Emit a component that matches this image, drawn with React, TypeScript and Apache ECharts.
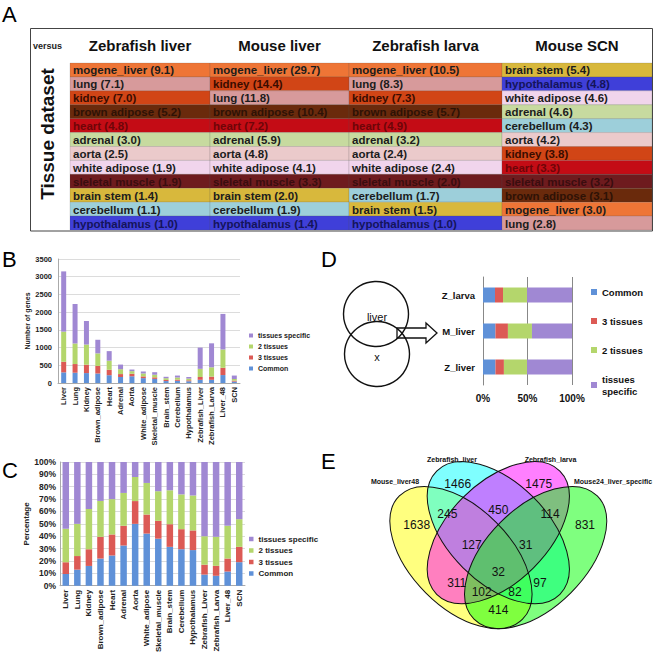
import React, { useEffect, useRef } from 'react';
import * as echarts from 'echarts';

// ---------- Panel A data ----------
const tableColumns = ['Zebrafish liver', 'Mouse liver', 'Zebrafish larva', 'Mouse SCN'];
const zebrafishLiverTissues = ['mogene_liver', 'lung', 'kidney', 'brown adipose', 'heart', 'adrenal', 'aorta', 'white adipose', 'sleletal muscle', 'brain stem', 'cerebellum', 'hypothalamus'];
const zebrafishLiverScores = [9.1, 7.1, 7.0, 5.2, 4.8, 3.0, 2.5, 1.9, 1.9, 1.4, 1.1, 1.0];
const mouseLiverTissues = ['mogene_liver', 'kidney', 'lung', 'brown adipose', 'heart', 'adrenal', 'aorta', 'white adipose', 'sleletal muscle', 'brain stem', 'cerebellum', 'hypothalamus'];
const mouseLiverScores = [29.7, 14.4, 11.8, 10.4, 7.2, 5.9, 4.8, 4.1, 3.3, 2.0, 1.9, 1.4];
const zebrafishLarvaTissues = ['mogene_liver', 'lung', 'kidney', 'brown adipose', 'heart', 'adrenal', 'aorta', 'white adipose', 'sleletal muscle', 'cerebellum', 'brain stem', 'hypothalamus'];
const zebrafishLarvaScores = [10.5, 8.3, 7.3, 5.7, 4.9, 3.2, 2.4, 2.4, 2.0, 1.7, 1.5, 1.0];
const mouseScnTissues = ['brain stem', 'hypothalamus', 'white adipose', 'adrenal', 'cerebellum', 'aorta', 'kidney', 'heart', 'sleletal muscle', 'brown adipose', 'mogene_liver', 'lung'];
const mouseScnScores = [5.4, 4.8, 4.6, 4.6, 4.3, 4.2, 3.8, 3.3, 3.2, 3.1, 3.0, 2.8];

// ---------- Panel B / C data ----------
const tissueCategories = ['Liver', 'Lung', 'Kidney', 'Brown_adipose', 'Heart', 'Adrenal', 'Aorta', 'White_adipose', 'Skeletal_muscle', 'Brain_stem', 'Cerebellum', 'Hypothalamus', 'Zebrafish_Liver', 'Zebrafish_Larva', 'Liver_48', 'SCN'];
const commonGenes = [300, 290, 280, 268, 220, 169, 190, 137, 116, 55, 62, 49, 90, 90, 224, 40];
const threeTissueGenes = [300, 245, 236, 214, 153, 83, 70, 50, 44, 32, 34, 27, 80, 90, 205, 26];
const twoTissueGenes = [850, 580, 569, 354, 257, 138, 74, 83, 73, 48, 59, 48, 230, 263, 517, 47];
const specificGenes = [1700, 1115, 665, 384, 270, 130, 46, 55, 72, 40, 55, 46, 600, 677, 1004, 97];
const geneTicks = { min: 0, max: 3500, interval: 500 };

// ---------- Panel D data ----------
const dCategories = ['Z_liver', 'M_liver', 'Z_larva'];
const dCommon = [14, 14, 13.5];
const dThree = [9.5, 14, 9];
const dTwo = [26, 27, 27];
const dSpecific = [50.5, 45, 50.5];

// ---------- Panel E data ----------
const vennSets = ['Mouse_liver48', 'Zebrafish_liver', 'Zebrafish_larva', 'Mouse24_liver_specific'];
const vennCounts = [1638, 1466, 1475, 831, 245, 450, 114, 127, 31, 32, 311, 97, 102, 82, 414];

// ---------- layout / style constants ----------
const FONT = 'Liberation Sans, Arial, sans-serif';
const COL_WIDTHS = [140, 139, 153, 150];
const colEdges = COL_WIDTHS.reduce((acc: number[], w) => { acc.push(acc[acc.length - 1] + w); return acc; }, [0]);
const tissueFill: Record<string, string> = {
  'mogene_liver': '#ee7536', 'lung': '#d79a9b', 'kidney': '#d14516', 'brown adipose': '#6a2a0c',
  'heart': '#c40c15', 'adrenal': '#c7da9f', 'aorta': '#ebcacb', 'white adipose': '#f1d5ec',
  'sleletal muscle': '#6e1b1e', 'brain stem': '#d8b83c', 'cerebellum': '#9dcfda', 'hypothalamus': '#3f3fd9',
};
const tissueText: Record<string, string> = {
  'kidney': '#3a0c00', 'brown adipose': '#2e1206', 'heart': '#6e0508', 'sleletal muscle': '#3a0d0f', 'hypothalamus': '#14145a',
};
const C_COMMON = '#5f91d8';
const C_THREE = '#dc5a55';
const C_TWO = '#b4d66c';
const C_SPEC = '#a088d3';
const vennFills = ['rgba(255,255,0,0.5)', 'rgba(0,255,255,0.5)', 'rgba(255,0,255,0.5)', 'rgba(0,255,0,0.5)'];
const vennEllipses = [
  { u: 0.35, v: 0.47, rot: -Math.PI / 4 },
  { u: 0.5, v: 0.57, rot: -Math.PI / 4 },
  { u: 0.5, v: 0.57, rot: Math.PI / 4 },
  { u: 0.65, v: 0.47, rot: Math.PI / 4 },
];
const VENN_UNIT = 249;
const vennPx = (u: number, v: number) => [498.3 + (u - 0.5) * VENN_UNIT, 461.7 + (0.855 - v) * VENN_UNIT];
const vennLabelPos = [[416.7, 525], [457.7, 484], [538.7, 484], [585, 525], [447.3, 514.3], [498.3, 510], [550, 514.3], [471.7, 545], [525.7, 545], [498.3, 571.7], [456.7, 582.7], [540, 582.7], [481.7, 592.3], [515, 592.3], [498.3, 610]];
const vennSetPos = [[395, 481.7], [452, 459.3], [550.5, 459.3], [613, 481.7]];

type Cell = { col: number; row: number; tissue: string; score: number };
const tableCells: Cell[] = [];
[[zebrafishLiverTissues, zebrafishLiverScores], [mouseLiverTissues, mouseLiverScores], [zebrafishLarvaTissues, zebrafishLarvaScores], [mouseScnTissues, mouseScnScores]]
  .forEach(([t, s], col) => (t as string[]).forEach((tissue, row) => tableCells.push({ col, row, tissue, score: (s as number[])[row] })));
const rowIds = zebrafishLiverTissues.map((_, i) => String(i));

const totals = tissueCategories.map((_, i) => commonGenes[i] + threeTissueGenes[i] + twoTissueGenes[i] + specificGenes[i]);
const pct = (arr: number[]) => arr.map((v, i) => +(v / totals[i] * 100).toFixed(2));

const legendNamesUp = ['tissues specific', '2 tissues', '3 tissues', 'Common'];
const legendNamesDown = ['Common', '3 tissues', '2 tissues', 'tissues specific'];

function buildOption(): any {
  const bold = (size: number, color = '#222') => ({ fontSize: size, fontWeight: 'bold', color, fontFamily: FONT });
  const graphic: any[] = [];
  // panel letters
  [['A', 2, 3], ['B', 2, 248], ['C', 2, 459], ['D', 321, 248], ['E', 321, 450]].forEach(([t, x, y]) => {
    graphic.push({ type: 'text', x, y, style: { text: t, font: `22px ${FONT}`, fill: '#000', align: 'left', verticalAlign: 'top' } });
  });
  // table frame
  graphic.push({ type: 'rect', shape: { x: 30.5, y: 28.5, width: 622, height: 202.5 }, style: { fill: 'none', stroke: '#444', lineWidth: 1 } });
  graphic.push({ type: 'text', x: 33, y: 46, style: { text: 'versus', font: `bold 9px ${FONT}`, fill: '#222', align: 'left', verticalAlign: 'middle' } });
  graphic.push({ type: 'text', x: 47, y: 134, rotation: Math.PI / 2, style: { text: 'Tissue dataset', font: `bold 19px ${FONT}`, fill: '#111', align: 'center', verticalAlign: 'middle' } });
  tableColumns.forEach((name, i) => {
    graphic.push({ type: 'text', x: 70 + (colEdges[i] + colEdges[i + 1]) / 2, y: 45, style: { text: name, font: `bold 15px ${FONT}`, fill: '#111', align: 'center', verticalAlign: 'middle' } });
  });
  // panel D schematic
  graphic.push({ type: 'circle', shape: { cx: 376, cy: 314, r: 32.5 }, style: { fill: 'none', stroke: '#111', lineWidth: 1.4 } });
  graphic.push({ type: 'circle', shape: { cx: 377, cy: 354, r: 32.5 }, style: { fill: 'none', stroke: '#111', lineWidth: 1.4 } });
  graphic.push({ type: 'polygon', shape: { points: [[397, 328], [426, 328], [426, 323], [437, 333], [426, 343], [426, 338], [397, 338]] }, style: { fill: 'none', stroke: '#111', lineWidth: 1.3 } });
  graphic.push({ type: 'text', x: 377, y: 317, style: { text: 'liver', font: `11px ${FONT}`, fill: '#111', align: 'center', verticalAlign: 'middle' } });
  graphic.push({ type: 'text', x: 377, y: 357, style: { text: 'x', font: `11px ${FONT}`, fill: '#111', align: 'center', verticalAlign: 'middle' } });
  // panel E venn
  vennEllipses.forEach((e, i) => {
    const [cx, cy] = vennPx(e.u, e.v);
    graphic.push({ type: 'ellipse', x: cx, y: cy, rotation: e.rot, shape: { cx: 0, cy: 0, rx: 0.35 * VENN_UNIT, ry: 0.2 * VENN_UNIT }, style: { fill: vennFills[i], stroke: 'none' } });
  });
  vennEllipses.forEach((e) => {
    const [cx, cy] = vennPx(e.u, e.v);
    graphic.push({ type: 'ellipse', x: cx, y: cy, rotation: e.rot, shape: { cx: 0, cy: 0, rx: 0.35 * VENN_UNIT, ry: 0.2 * VENN_UNIT }, style: { fill: 'none', stroke: '#111', lineWidth: 1 } });
  });
  vennCounts.forEach((c, i) => {
    graphic.push({ type: 'text', x: vennLabelPos[i][0], y: vennLabelPos[i][1], style: { text: String(c), font: `12px ${FONT}`, fill: '#111', align: 'center', verticalAlign: 'middle' } });
  });
  vennSets.forEach((s, i) => {
    graphic.push({ type: 'text', x: vennSetPos[i][0], y: vennSetPos[i][1], style: { text: s, font: `bold 7px ${FONT}`, fill: '#111', align: 'center', verticalAlign: 'middle' } });
  });

  const barSeries = (name: string, data: number[], color: string, gi: number, stack: string, barWidth: number) => ({
    type: 'bar', name, data, stack, barWidth, xAxisIndex: gi, yAxisIndex: gi,
    itemStyle: { color }, emphasis: { disabled: true },
  });

  return {
    animation: false,
    textStyle: { fontFamily: FONT },
    graphic,
    grid: [
      { left: 70, top: 63, width: 582, height: 167 },
      { left: 58, top: 259, width: 182, height: 124 },
      { left: 60, top: 462, width: 185, height: 126 },
      { left: 483, top: 277, width: 89, height: 108 },
    ],
    xAxis: [
      { type: 'value', gridIndex: 0, min: 0, max: colEdges[colEdges.length - 1], show: false },
      {
        type: 'category', gridIndex: 1, data: tissueCategories,
        axisLine: { lineStyle: { color: '#aaa' } }, axisTick: { length: 3, lineStyle: { color: '#aaa' } },
        axisLabel: { ...bold(7.5), rotate: 90, interval: 0, margin: 4 },
      },
      {
        type: 'category', gridIndex: 2, data: tissueCategories,
        axisLine: { lineStyle: { color: '#aaa' } }, axisTick: { length: 3, lineStyle: { color: '#aaa' } },
        axisLabel: { ...bold(8), rotate: 90, interval: 0, margin: 4 },
      },
      {
        type: 'value', gridIndex: 3, min: 0, max: 100, interval: 50,
        axisLine: { show: false }, axisTick: { show: false },
        splitLine: { lineStyle: { color: '#888' } },
        axisLabel: { ...bold(10, '#111'), formatter: '{value}%', margin: 8 },
      },
    ],
    yAxis: [
      { type: 'category', gridIndex: 0, data: rowIds, inverse: true, show: false },
      {
        type: 'value', gridIndex: 1, ...geneTicks,
        axisLine: { show: true, lineStyle: { color: '#aaa' } }, axisTick: { show: false },
        splitLine: { lineStyle: { color: '#dcdcdc' } },
        axisLabel: { ...bold(7.5), margin: 6, formatter: (v: number) => String(v) },
        name: 'Number of genes', nameLocation: 'middle', nameGap: 24, nameTextStyle: bold(7),
      },
      {
        type: 'value', gridIndex: 2, min: 0, max: 100, interval: 10,
        axisLine: { show: true, lineStyle: { color: '#aaa' } }, axisTick: { show: false },
        splitLine: { lineStyle: { color: '#dcdcdc' } },
        axisLabel: { ...bold(8.5), margin: 4, formatter: '{value}%' },
        name: 'Percentage', nameLocation: 'middle', nameGap: 25, nameTextStyle: bold(8),
      },
      {
        type: 'category', gridIndex: 3, data: dCategories,
        axisLine: { lineStyle: { color: '#888' } }, axisTick: { length: 4, lineStyle: { color: '#888' } },
        axisLabel: { ...bold(9.5, '#111'), margin: 8 },
      },
    ],
    legend: [
      { orient: 'vertical', left: 249, top: 332, padding: 0, itemWidth: 4, itemHeight: 4, itemGap: 4, icon: 'rect', data: legendNamesUp, textStyle: bold(7), selectedMode: false },
      { orient: 'vertical', left: 249, top: 535, padding: 0, itemWidth: 4.5, itemHeight: 4.5, itemGap: 3.5, icon: 'rect', data: legendNamesUp, textStyle: bold(8), selectedMode: false },
      {
        orient: 'vertical', left: 591, top: 286, padding: 0, itemWidth: 6, itemHeight: 6, itemGap: 17, icon: 'rect', data: legendNamesDown,
        textStyle: { ...bold(9.5, '#111'), lineHeight: 12 }, selectedMode: false,
        formatter: (n: string) => (n === 'tissues specific' ? 'tissues\nspecific' : n),
      },
    ],
    series: [
      {
        type: 'custom', xAxisIndex: 0, yAxisIndex: 0, clip: false,
        data: tableCells.map((c) => [c.col, c.row, c.score]),
        renderItem: (params: any, api: any) => {
          const cell = tableCells[params.dataIndex];
          const x0 = api.coord([colEdges[cell.col], cell.row])[0];
          const x1 = api.coord([colEdges[cell.col + 1], cell.row])[0];
          const cy = api.coord([0, cell.row])[1];
          const h = api.size([0, 1])[1];
          return {
            type: 'group',
            children: [
              { type: 'rect', shape: { x: x0, y: cy - h / 2, width: x1 - x0, height: h }, style: { fill: tissueFill[cell.tissue], stroke: 'rgba(80,80,80,0.35)', lineWidth: 0.5 } },
              { type: 'text', x: x0 + 3, y: cy + 0.5, style: { text: `${cell.tissue} (${cell.score.toFixed(1)})`, fill: tissueText[cell.tissue] || '#1c1c1c', font: `bold 11.5px ${FONT}`, align: 'left', verticalAlign: 'middle' } },
            ],
          };
        },
      },
      barSeries('Common', commonGenes, C_COMMON, 1, 'B', 5),
      barSeries('3 tissues', threeTissueGenes, C_THREE, 1, 'B', 5),
      barSeries('2 tissues', twoTissueGenes, C_TWO, 1, 'B', 5),
      barSeries('tissues specific', specificGenes, C_SPEC, 1, 'B', 5),
      barSeries('Common', pct(commonGenes), C_COMMON, 2, 'C', 6.5),
      barSeries('3 tissues', pct(threeTissueGenes), C_THREE, 2, 'C', 6.5),
      barSeries('2 tissues', pct(twoTissueGenes), C_TWO, 2, 'C', 6.5),
      barSeries('tissues specific', pct(specificGenes), C_SPEC, 2, 'C', 6.5),
      barSeries('Common', dCommon, C_COMMON, 3, 'D', 15),
      barSeries('3 tissues', dThree, C_THREE, 3, 'D', 15),
      barSeries('2 tissues', dTwo, C_TWO, 3, 'D', 15),
      barSeries('tissues specific', dSpecific, C_SPEC, 3, 'D', 15),
    ],
  };
}

export default function App() {
  const ref = useRef<HTMLDivElement>(null);
  useEffect(() => {
    document.body.style.margin = '0';
    if (!ref.current) return;
    const chart = echarts.init(ref.current, undefined, { renderer: 'svg' });
    chart.setOption(buildOption());
    return () => chart.dispose();
  }, []);
  return <div ref={ref} style={{ width: 654, height: 655, background: '#fff' }} />;
}
